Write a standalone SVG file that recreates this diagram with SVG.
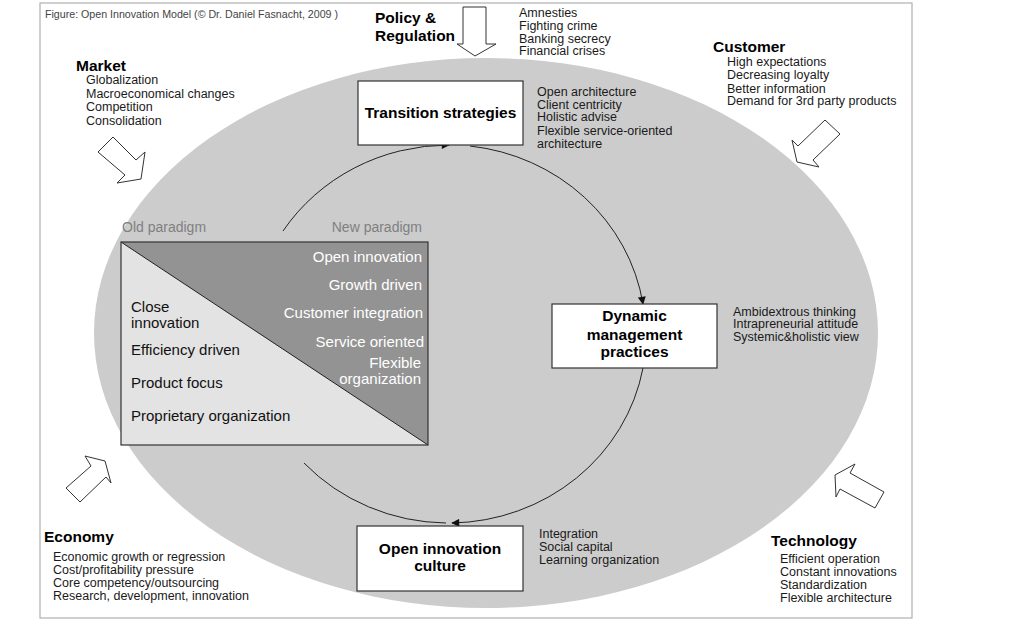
<svg xmlns="http://www.w3.org/2000/svg" width="1024" height="623" viewBox="0 0 1024 623">
<defs>
<marker id="ah" viewBox="0 0 10 10" refX="9" refY="5" markerWidth="9" markerHeight="8" markerUnits="userSpaceOnUse" orient="auto">
<path d="M0,0 L10,5 L0,10 Z" fill="#111"/>
</marker>
<style>
.t{font-family:"Liberation Sans",Arial,Helvetica,sans-serif;fill:#1a1a1a;font-size:12.5px}
.h{font-family:"Liberation Sans",Arial,Helvetica,sans-serif;fill:#000;font-size:15.5px;font-weight:bold}
.p{font-family:"Liberation Sans",Arial,Helvetica,sans-serif;font-size:15px;fill:#111}
.w{font-family:"Liberation Sans",Arial,Helvetica,sans-serif;font-size:15px;fill:#fff;text-anchor:end}
.g{font-family:"Liberation Sans",Arial,Helvetica,sans-serif;font-size:14px;fill:#808080}
.box{fill:#fff;stroke:#333;stroke-width:1.2}
.ba{fill:#fff;stroke:#333;stroke-width:1}
.c{fill:none;stroke:#222;stroke-width:1}
</style>
</defs>
<rect x="0" y="0" width="1024" height="623" fill="#fff"/>
<rect x="40" y="3" width="872" height="615" fill="#fff" stroke="#b0b0b0" stroke-width="1.2"/>
<ellipse id="field" cx="486" cy="333" rx="392" ry="275" fill="#cccccc"/>
<text x="45" y="18" font-family="'Liberation Sans',Arial,sans-serif" font-size="10" fill="#444" textLength="293" lengthAdjust="spacingAndGlyphs">Figure: Open Innovation Model (© Dr. Daniel Fasnacht, 2009 )</text>

<g id="market">
<polygon class="ba" points="98,152 113,137 136,160 145,152 141,179 117,183 125,175"/>
<text class="h" x="76" y="71">Market</text>
<text class="t" x="86" y="84">Globalization</text>
<text class="t" x="86" y="97.5">Macroeconomical changes</text>
<text class="t" x="86" y="111">Competition</text>
<text class="t" x="86" y="124.5">Consolidation</text>
</g>

<g id="policy">
<polygon class="ba" points="463,7 486,7 486,44 496,44 475,56 457,44 463,44"/>
<text class="h" x="375" y="23" font-size="15">Policy &amp;</text>
<text class="h" x="375" y="41" font-size="15">Regulation</text>
<text class="t" x="519" y="17">Amnesties</text>
<text class="t" x="519" y="29.5">Fighting crime</text>
<text class="t" x="519" y="42.5">Banking secrecy</text>
<text class="t" x="519" y="55">Financial crises</text>
</g>

<g id="customer">
<polygon class="ba" points="825,120 840,134 813,160 819,167 797,162 792,140 798,146"/>
<text class="h" x="713" y="52">Customer</text>
<text class="t" x="727" y="66">High expectations</text>
<text class="t" x="727" y="79">Decreasing loyalty</text>
<text class="t" x="727" y="92.5">Better information</text>
<text class="t" x="727" y="105">Demand for 3rd party products</text>
</g>

<g id="economy">
<polygon class="ba" points="85,456 105,461 111,483 106,477 80,502 66,488 91,466"/>
<text class="h" x="44" y="542">Economy</text>
<text class="t" x="53" y="561">Economic growth or regression</text>
<text class="t" x="53" y="574">Cost/profitability pressure</text>
<text class="t" x="53" y="587">Core competency/outsourcing</text>
<text class="t" x="53" y="600">Research, development, innovation</text>
</g>

<g id="technology">
<polygon class="ba" points="855,464 835,475 836,497 840,489 875,508 884,492 850,473"/>
<text class="h" x="771" y="546">Technology</text>
<text class="t" x="780" y="562.5">Efficient operation</text>
<text class="t" x="780" y="575.5">Constant innovations</text>
<text class="t" x="780" y="589">Standardization</text>
<text class="t" x="780" y="602">Flexible architecture</text>
</g>

<g id="connectors">
<path class="c" d="M283,231 A198,189 0 0 1 449,145" marker-end="url(#ah)"/>
<path class="c" d="M470,146 A198,189 0 0 1 643,304" marker-end="url(#ah)"/>
<path class="c" d="M643,368 A198,189 0 0 1 452,523" marker-end="url(#ah)"/>
<path class="c" d="M446,523 A198,189 0 0 1 304,463"/>
</g>

<g id="transition">
<rect class="box" x="358" y="81" width="165" height="64"/>
<text class="h" x="440.5" y="118" text-anchor="middle">Transition strategies</text>
<text class="t" x="537" y="96">Open architecture</text>
<text class="t" x="537" y="108.5">Client centricity</text>
<text class="t" x="537" y="121">Holistic advise</text>
<text class="t" x="537" y="134.5">Flexible service-oriented</text>
<text class="t" x="537" y="148">architecture</text>
</g>

<g id="dynamic">
<rect class="box" x="552" y="304" width="165" height="64"/>
<text class="h" x="634.5" y="321" text-anchor="middle">Dynamic</text>
<text class="h" x="634.5" y="339.5" text-anchor="middle">management</text>
<text class="h" x="634.5" y="357" text-anchor="middle">practices</text>
<text class="t" x="733" y="316">Ambidextrous thinking</text>
<text class="t" x="733" y="328">Intrapreneurial attitude</text>
<text class="t" x="733" y="340.5">Systemic&amp;holistic view</text>
</g>

<g id="culture">
<rect class="box" x="357" y="526" width="166" height="65"/>
<text class="h" x="440" y="553.5" text-anchor="middle">Open innovation</text>
<text class="h" x="440" y="571" text-anchor="middle">culture</text>
<text class="t" x="539" y="537.5">Integration</text>
<text class="t" x="539" y="551">Social capital</text>
<text class="t" x="539" y="564">Learning organization</text>
</g>

<g id="paradigm">
<text class="g" x="122" y="231.5">Old paradigm</text>
<text class="g" x="422" y="231.5" text-anchor="end">New paradigm</text>
<polygon points="121,242 428,445 121,445" fill="#e3e3e3"/>
<polygon points="121,242 428,242 428,445" fill="#939393"/>
<line x1="121" y1="242" x2="428" y2="445" stroke="#222" stroke-width="1"/>
<rect x="121" y="242" width="307" height="203" fill="none" stroke="#333" stroke-width="1.2"/>
<text class="w" x="422" y="262">Open innovation</text>
<text class="w" x="422" y="290">Growth driven</text>
<text class="w" x="423" y="318">Customer integration</text>
<text class="w" x="424" y="347">Service oriented</text>
<text class="w" x="421" y="368">Flexible</text>
<text class="w" x="421" y="383.5">organization</text>
<text class="p" x="131" y="312">Close</text>
<text class="p" x="131" y="327.5">innovation</text>
<text class="p" x="131" y="355">Efficiency driven</text>
<text class="p" x="131" y="387.5">Product focus</text>
<text class="p" x="131" y="421">Proprietary organization</text>
</g>
</svg>
